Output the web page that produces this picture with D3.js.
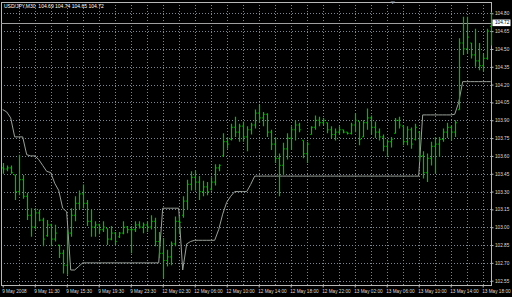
<!DOCTYPE html>
<html>
<head>
<meta charset="utf-8">
<script src="https://cdn.jsdelivr.net/npm/d3@7/dist/d3.min.js"></script>
<style>
  html, body { margin: 0; padding: 0; background: #000; }
  svg { display: block; }
  text { font-family: "Liberation Sans", Arial, sans-serif; }
</style>
</head>
<body>
<svg id="chart" width="512" height="297"></svg>
<script>
// ---------------- DATA ----------------
const HEADER = "USD/JPY,M30  104.69 104.74 104.65 104.72";
const BID = 104.72;

const HIGH = [103.54,103.52,103.52,103.44,103.61,103.44,103.29,103.16,103.16,103.15,
  103.08,103.06,103.03,103.02,102.85,102.81,102.98,103.16,103.26,103.31,
  103.36,103.23,103.15,103.05,103.03,103.05,102.99,103.01,102.96,102.96,
  103.05,103.01,103.01,103.05,103.05,103.04,103.05,103.10,103.08,102.96,
  102.91,102.81,102.88,103.09,103.09,103.26,103.40,103.47,103.48,103.43,
  103.39,103.38,103.42,103.53,103.53,103.79,103.76,103.87,103.93,103.87,
  103.89,103.85,103.88,103.99,104.03,103.97,103.96,103.82,103.76,103.62,
  103.71,103.79,103.85,103.90,103.88,103.73,103.72,103.85,103.94,103.93,
  103.92,103.88,103.85,103.83,103.85,103.82,103.80,103.88,103.96,103.89,
  103.90,104.00,103.94,103.89,103.83,103.78,103.74,103.76,103.92,103.93,
  103.85,103.85,103.84,103.87,103.80,103.64,103.62,103.72,103.76,103.76,
  103.83,103.88,103.86,103.90,104.59,104.77,104.77,104.55,104.67,104.55,
  104.46,104.67,104.81];

const LOW = [103.45,103.47,103.45,103.23,103.27,103.24,103.06,102.92,102.98,103.05,
  102.84,102.92,102.84,102.88,102.74,102.61,102.60,102.92,103.05,103.15,
  103.16,103.01,102.92,102.92,102.94,102.96,102.85,102.89,102.85,102.91,
  102.94,102.95,102.78,102.96,102.99,102.95,102.96,102.98,102.84,102.74,
  102.57,102.67,102.68,102.84,102.94,103.08,103.15,103.31,103.31,103.23,
  103.26,103.27,103.31,103.35,103.47,103.60,103.66,103.73,103.76,103.72,
  103.72,103.64,103.78,103.83,103.88,103.85,103.76,103.65,103.54,103.26,
  103.44,103.57,103.65,103.73,103.80,103.58,103.54,103.78,103.82,103.85,
  103.86,103.79,103.75,103.73,103.78,103.79,103.78,103.78,103.80,103.69,
  103.76,103.82,103.78,103.75,103.73,103.64,103.59,103.67,103.79,103.83,
  103.69,103.69,103.66,103.73,103.55,103.41,103.38,103.52,103.45,103.59,
  103.72,103.75,103.73,103.76,103.99,104.45,104.46,104.42,104.35,104.32,
  104.31,104.41,104.53];

const OPEN = [103.50,103.49,103.50,103.44,103.30,103.40,103.26,103.10,103.00,103.12,
  103.06,102.93,103.02,102.90,102.85,102.78,102.68,102.95,103.10,103.20,
  103.28,103.20,103.05,103.00,103.02,102.98,102.99,102.90,102.95,102.92,
  102.95,103.00,102.98,102.98,103.02,103.00,103.02,103.00,103.05,102.88,
  102.78,102.72,102.75,102.86,103.05,103.10,103.22,103.36,103.42,103.38,
  103.30,103.34,103.32,103.38,103.50,103.60,103.72,103.74,103.84,103.80,
  103.85,103.76,103.82,103.86,103.96,103.92,103.95,103.80,103.70,103.58,
  103.52,103.66,103.75,103.82,103.86,103.73,103.62,103.78,103.84,103.90,
  103.88,103.88,103.82,103.78,103.80,103.82,103.80,103.79,103.86,103.89,
  103.76,103.88,103.92,103.84,103.80,103.76,103.68,103.72,103.79,103.90,
  103.85,103.72,103.82,103.74,103.80,103.60,103.46,103.58,103.68,103.70,
  103.74,103.80,103.84,103.80,103.99,104.55,104.50,104.55,104.45,104.40,
  104.36,104.42,104.69];

const CLOSE = [103.49,103.50,103.46,103.30,103.40,103.26,103.10,103.00,103.12,103.06,
  102.90,103.02,102.90,102.95,102.78,102.68,102.95,103.10,103.20,103.28,
  103.20,103.05,103.00,103.02,102.98,103.00,102.90,102.95,102.88,102.95,
  103.00,102.98,102.98,103.02,103.00,103.02,103.00,103.05,102.88,102.78,
  102.72,102.75,102.86,103.05,103.04,103.22,103.36,103.42,103.38,103.30,
  103.34,103.30,103.38,103.50,103.52,103.72,103.70,103.84,103.80,103.85,
  103.76,103.82,103.86,103.96,103.92,103.95,103.80,103.70,103.58,103.52,
  103.66,103.75,103.82,103.86,103.82,103.62,103.70,103.84,103.90,103.88,
  103.90,103.82,103.78,103.80,103.82,103.80,103.79,103.86,103.90,103.74,
  103.88,103.92,103.84,103.80,103.76,103.68,103.72,103.74,103.90,103.86,
  103.72,103.82,103.70,103.84,103.60,103.46,103.58,103.68,103.70,103.74,
  103.80,103.84,103.80,103.88,104.55,104.50,104.60,104.45,104.40,104.36,
  104.42,104.65,104.72];

// indicator line (gray)
const STOP = [103.99,103.97,103.92,103.76,103.76,103.76,103.61,103.60,103.60,103.57,
  103.52,103.47,103.46,103.37,103.31,103.16,103.13,102.64,102.64,102.67,
  102.70,102.70,102.70,102.70,102.70,102.70,102.70,102.70,102.70,102.70,
  102.70,102.70,102.70,102.70,102.70,102.70,102.70,102.70,102.70,102.70,
  103.16,103.16,103.16,103.16,103.16,102.64,102.86,102.88,102.89,102.89,
  102.89,102.89,102.89,102.89,102.98,103.11,103.21,103.26,103.30,103.30,
  103.30,103.30,103.36,103.43,103.43,103.43,103.43,103.43,103.43,103.43,
  103.43,103.43,103.43,103.43,103.43,103.43,103.43,103.43,103.43,103.43,
  103.43,103.43,103.43,103.43,103.43,103.43,103.43,103.43,103.43,103.43,
  103.43,103.43,103.43,103.43,103.43,103.43,103.43,103.43,103.43,103.43,
  103.43,103.43,103.43,103.43,103.43,103.945,103.945,103.945,103.945,103.945,
  103.945,103.945,103.945,103.95,104.05,104.225,104.225,104.225,104.225,104.225,
  104.225,104.225,104.225];

const PRICE_TICKS = [102.55,102.70,102.85,103.00,103.15,103.30,103.45,103.60,
  103.75,103.90,104.05,104.20,104.35,104.50,104.65,104.80];

const TIME_LABELS = ["9 May 2008","9 May 11:30","9 May 15:30","9 May 19:30","9 May 23:30",
  "12 May 02:30","12 May 06:00","12 May 10:00","12 May 14:00","12 May 18:00",
  "12 May 22:00","13 May 02:00","13 May 06:00","13 May 10:00","13 May 14:00","13 May 18:00"];

// ---------------- DRAW ----------------
const svg = d3.select("#chart");
const P = {left: 1, right: 491.5, top: 2, bottom: 285.5};
const N = HIGH.length;

const x = d3.scaleLinear().domain([0, N - 1]).range([2.7, 2.7 + 4 * (N - 1)]);
const y = d3.scaleLinear().domain([102.55, 104.80]).range([280.7, 13.3]);
const px = v => Math.round(x(v)) + 0.5;
const py = v => Math.round(y(v)) + 0.5;

svg.append("rect").attr("width", 512).attr("height", 297).attr("fill", "#000");

// grid
const gridColor = "#7d8794";
svg.append("g").selectAll("line").data(PRICE_TICKS).join("line")
  .attr("x1", P.left).attr("x2", P.right)
  .attr("y1", d => py(d)).attr("y2", d => py(d))
  .attr("stroke", gridColor).attr("stroke-width", 1).attr("stroke-dasharray", "1,2");

const vGrid = d3.range(4, N, 4);
svg.append("g").selectAll("line").data(vGrid).join("line")
  .attr("x1", d => px(d)).attr("x2", d => px(d))
  .attr("y1", P.top).attr("y2", P.bottom)
  .attr("stroke", gridColor).attr("stroke-width", 1).attr("stroke-dasharray", "1,2");

// frame
svg.append("rect")
  .attr("x", P.left + 0.5).attr("y", P.top + 0.5)
  .attr("width", P.right - P.left - 0.5).attr("height", P.bottom - P.top - 0.5)
  .attr("fill", "none").attr("stroke", "#b8b8b8").attr("stroke-width", 1);

// bid line
svg.append("line")
  .attr("x1", P.left).attr("x2", P.right)
  .attr("y1", py(BID)).attr("y2", py(BID))
  .attr("stroke", "#a0a0a0").attr("stroke-width", 1);

// indicator line
const line = d3.line().x((d, i) => x(i)).y(d => y(d));
svg.append("path").datum(STOP)
  .attr("d", line).attr("fill", "none")
  .attr("stroke", "#9aa09a").attr("stroke-width", 1);

// OHLC bars
const idx = d3.range(N);
svg.append("g").selectAll("path").data(idx).join("path")
  .attr("d", i => {
    const cx = px(i);
    return `M${cx},${y(HIGH[i])}V${y(LOW[i])}` +
           `M${cx - 1.2},${y(OPEN[i])}H${cx}` +
           `M${cx},${y(CLOSE[i])}H${cx + 1.2}`;
  })
  .attr("fill", "none").attr("stroke", "#00bb00").attr("stroke-width", 1.2);

// right price axis
const yAxis = d3.axisRight(y).tickValues(PRICE_TICKS)
  .tickFormat(d3.format(".2f")).tickSize(2).tickPadding(1.5);
const gy = svg.append("g").attr("transform", `translate(${P.right},0)`).call(yAxis);
gy.select(".domain").remove();
gy.selectAll(".tick line").attr("stroke", "#b8b8b8");
gy.selectAll(".tick text").attr("fill", "#dcdcdc").attr("font-size", 4.7);

// bid label
const bidG = svg.append("g").attr("transform", `translate(${P.right + 1},${y(BID)})`);
bidG.append("rect").attr("x", 0).attr("y", -3.3).attr("width", 18).attr("height", 6.6)
  .attr("fill", "#ffffff");
bidG.append("text").attr("x", 2.5).attr("y", 0).attr("dy", "0.35em")
  .attr("font-size", 4.7).attr("fill", "#000").text(d3.format(".2f")(BID));

// bottom time axis
const xAxis = d3.axisBottom(x).tickValues(TIME_LABELS.map((d, k) => k * 8))
  .tickFormat((d, k) => TIME_LABELS[k]).tickSize(2).tickPadding(2);
const gx = svg.append("g").attr("transform", `translate(0,${P.bottom})`).call(xAxis);
gx.select(".domain").remove();
gx.selectAll(".tick line").attr("stroke", "#b8b8b8");
gx.selectAll(".tick text").attr("fill", "#dcdcdc").attr("font-size", 4.7)
  .attr("text-anchor", "start").attr("dx", -1);

// chart shift marker
svg.append("path").attr("d", "M390.5,1.5L395,1.5L392.7,4Z").attr("fill", "#9aa8b8");

// header
svg.append("text").attr("x", 4).attr("y", 7.5).attr("font-size", 5)
  .attr("fill", "#ffffff").attr("xml:space", "preserve").text(HEADER);
</script>
</body>
</html>
